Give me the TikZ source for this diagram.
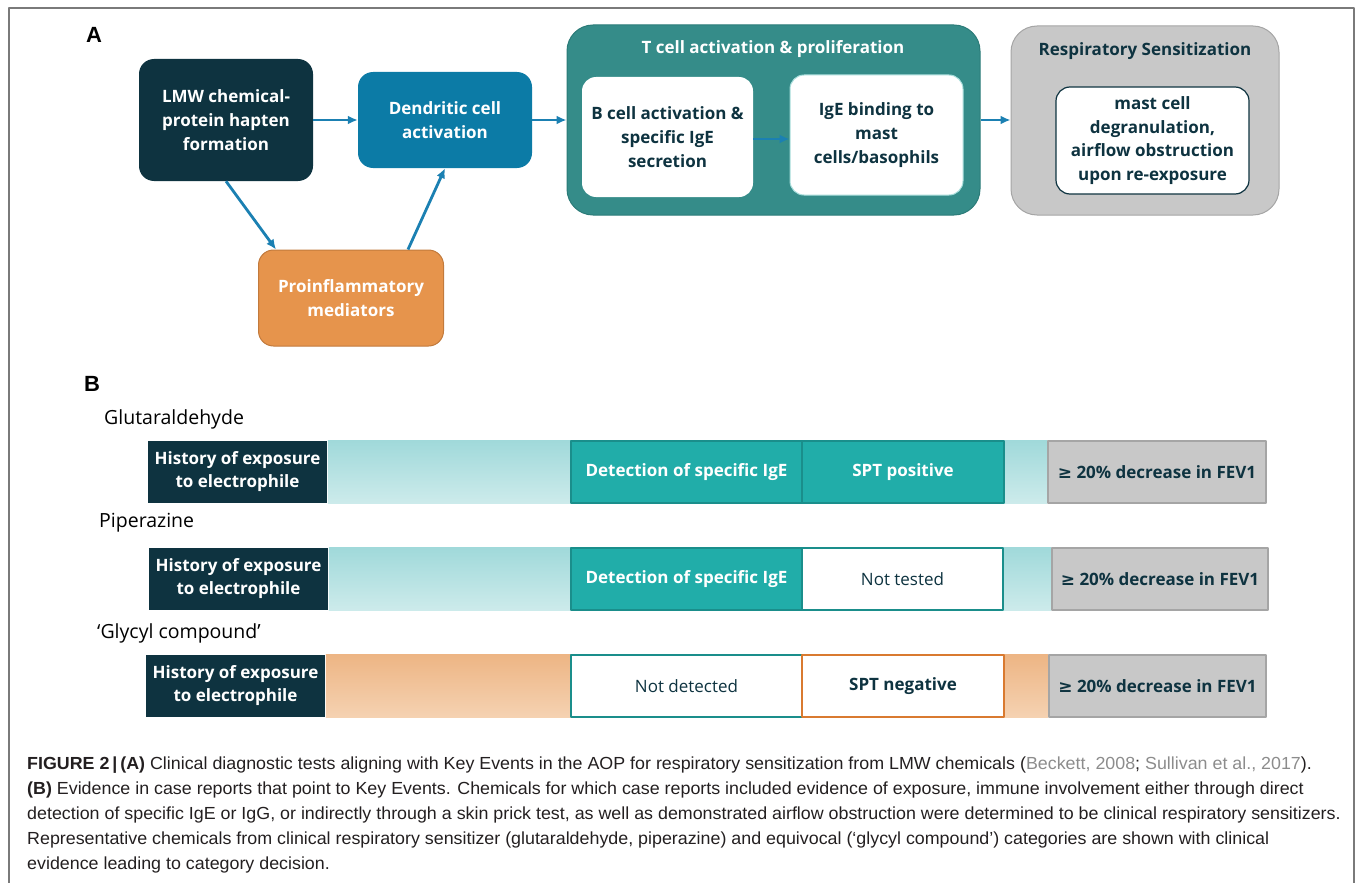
\documentclass[tikz,border=0pt]{standalone}
\usepackage{fontspec}
\setmainfont{Open Sans}
\newfontfamily\capfont[FakeStretch=1.02]{Liberation Sans}
\newfontfamily\labfont{Liberation Sans}
\newfontfamily\symfont{DejaVu Sans}
\usetikzlibrary{arrows.meta,backgrounds}

\definecolor{navy}{HTML}{0E3340}
\definecolor{dendblue}{HTML}{0C7BA6}
\definecolor{arrowblue}{HTML}{1B80B2}
\definecolor{orangefill}{HTML}{E6944C}
\definecolor{orangeline}{HTML}{C27A3C}
\definecolor{tealbox}{HTML}{358C89}
\definecolor{tealboxline}{HTML}{2B7B78}
\definecolor{grayfill}{HTML}{C8C8C8}
\definecolor{grayline}{HTML}{A5A5A5}
\definecolor{tealcell}{HTML}{21ADA9}
\definecolor{tealcellline}{HTML}{1A8E8B}
\definecolor{bandtop}{HTML}{A0D9DA}
\definecolor{bandbot}{HTML}{CDEBEB}
\definecolor{obandtop}{HTML}{EDB584}
\definecolor{obandbot}{HTML}{F5D2B2}
\definecolor{spneg}{HTML}{D97A30}
\definecolor{iglight}{HTML}{A6DCDA}
\definecolor{captext}{HTML}{231F20}
\definecolor{citegray}{HTML}{8C8C8C}
\definecolor{framegray}{HTML}{7A7A7A}

\begin{document}
\begin{tikzpicture}[x=1pt, y=-1pt, line join=round, >={Latex[length=10pt,width=9pt]},
    every node/.style={inner sep=0pt, align=center, font=\fontsize{17}{23.5}\selectfont},
    card/.style={rounded corners=15pt, text=white, font=\fontsize{17}{24}\selectfont\bfseries},
    group/.style={rounded corners=26pt, line width=1pt},
    inbox/.style={rounded corners=14pt, fill=white, text=navy, font=\fontsize{17}{24}\selectfont\bfseries},
    flow/.style={->, draw=arrowblue, line width=2.8pt},
    cell/.style={minimum height=62pt, line width=1.5pt, font=\fontsize{17}{23}\selectfont\bfseries},
    hist/.style={cell, fill=navy, text=white, minimum width=179pt},
    found/.style={cell, fill=tealcell, draw=tealcellline, text=white, minimum width=231pt},
    fev/.style={cell, fill=grayfill, draw=grayline, text=navy, minimum width=217pt},
    chem/.style={anchor=west, font=\fontsize{19.5}{23}\selectfont},
    panel/.style={font=\labfont\bfseries\fontsize{22}{22}\selectfont},
    capline/.style={anchor=base west, align=left, text=captext, font=\capfont\fontsize{17.5}{20}\selectfont}]
  \useasboundingbox (0,0) rectangle (1355,883);
  \draw[framegray, line width=1.2pt] (9,883) -- (9,8) -- (1354,8) -- (1354,883);

  % panel A
  \node[panel] (labA) at (94,35) {A};
  \node[card, fill=navy, minimum width=174pt, minimum height=122pt] (lmw) at (226,120)
    {LMW chemical-\\protein hapten\\formation};
  \node[card, fill=dendblue, minimum width=174pt, minimum height=96pt] (dend) at (445,120)
    {Dendritic cell\\activation};
  \node[card, fill=orangefill, draw=orangeline, line width=1pt, minimum width=185pt, minimum height=96pt] (pro) at (351,298)
    {Proinflammatory\\mediators};

  \node[group, fill=tealbox, draw=tealboxline, minimum width=413pt, minimum height=190pt] (tcell) at (773.5,120) {};
  \node[text=white, font=\fontsize{17}{20}\selectfont\bfseries] (ttitle) at (773,49) {T cell activation \& proliferation};
  \node[inbox, minimum width=171pt, minimum height=120pt] (bcell) at (667.5,137)
    {B cell activation \&\\specific IgE\\secretion};
  \node[inbox, draw=iglight, line width=1pt, minimum width=173pt, minimum height=120pt] (ige) at (876.5,135)
    {IgE binding to\\mast\\cells/basophils};

  \node[group, fill=grayfill, draw=grayline, minimum width=268pt, minimum height=189pt] (resp) at (1145,120.5) {};
  \node[text=navy, font=\fontsize{17}{20}\selectfont\bfseries] (rtitle) at (1145,51) {Respiratory Sensitization};
  \node[inbox, draw=navy, line width=1.2pt, minimum width=193pt, minimum height=107pt, font=\fontsize{17}{23.5}\selectfont\bfseries] (mast) at (1152.5,140.5)
    {mast cell\\degranulation,\\airflow obstruction\\upon re-exposure};

  \draw[flow] (lmw) -- (dend);
  \draw[flow] (lmw.south) -- ([xshift=18pt]pro.north west);
  \draw[flow] ([xshift=-36pt]pro.north east) -- (dend.south);
  \draw[flow] (dend) -- (tcell);
  \draw[flow] ([yshift=-2pt]bcell.east) -- ([yshift=-2pt]bcell.east -| ige.west);
  \draw[flow] (tcell.east) -- (tcell.east -| resp.west);

  % panel B
  \node[panel] (labB) at (92,384) {B};

  % row 1
  \node[chem] (glut) at (104,419) {Glutaraldehyde};
  \node[hist] (hist1) at (237.5,472) {History of exposure\\to electrophile};
  \node[found] (det1) at (686.5,472) {Detection of specific IgE};
  \node[found, minimum width=202pt] (spt1) at (903,472) {SPT positive};
  \node[fev, minimum width=218pt] (fev1) at (1157,472) {{\symfont\bfseries ≥} 20\% decrease in FEV1};

  % row 2
  \node[chem] (pip) at (99,523) {Piperazine};
  \node[hist] (hist2) at (238.5,579) {History of exposure\\to electrophile};
  \node[found] (det2) at (686.5,579) {Detection of specific IgE};
  \node[cell, fill=white, draw=tealcellline, text=navy, font=\fontsize{17}{23}\selectfont, minimum width=201pt] (spt2) at (902.5,579) {Not tested};
  \node[fev, minimum width=216pt] (fev2) at (1160,579) {{\symfont ≥} 20\% decrease in FEV1};

  % row 3
  \node[chem] (gly) at (97,633) {‘Glycyl compound’};
  \node[hist] (hist3) at (235.5,686) {History of exposure\\to electrophile};
  \node[cell, fill=white, draw=tealcellline, text=navy, font=\fontsize{17}{23}\selectfont, minimum width=231pt] (det3) at (686.5,686) {Not detected};
  \node[cell, fill=white, draw=spneg, text=navy, minimum width=202pt] (spt3) at (903,686) {SPT negative};
  \node[fev] (fev3) at (1157.5,686) {{\symfont ≥} 20\% decrease in FEV1};

  \begin{scope}[on background layer]
    \shade[top color=bandtop, bottom color=bandbot] (hist1.north east) rectangle (fev1.south west);
    \shade[top color=bandtop, bottom color=bandbot] (hist2.north east) rectangle (fev2.south west);
    \shade[top color=obandtop, bottom color=obandbot] (hist3.north east) rectangle (fev3.south west);
  \end{scope}

  % caption
  \node[capline] (cap1) at (27,769) {\textbf{FIGURE 2\,|\,(A)} Clinical diagnostic tests aligning with Key Events in the AOP for respiratory sensitization from LMW chemicals ({\color{citegray}Beckett, 2008}; {\color{citegray}Sullivan et al., 2017}).};
  \node[capline] (cap2) at (27,794) {\textbf{(B)} Evidence in case reports that point to Key Events. Chemicals for which case reports included evidence of exposure, immune involvement either through direct};
  \node[capline] (cap3) at (27,819) {detection of specific IgE or IgG, or indirectly through a skin prick test, as well as demonstrated airflow obstruction were determined to be clinical respiratory sensitizers.};
  \node[capline] (cap4) at (27,844) {Representative chemicals from clinical respiratory sensitizer (glutaraldehyde, piperazine) and equivocal (‘glycyl compound’) categories are shown with clinical};
  \node[capline] (cap5) at (27,869) {evidence leading to category decision.};
\end{tikzpicture}
\end{document}
